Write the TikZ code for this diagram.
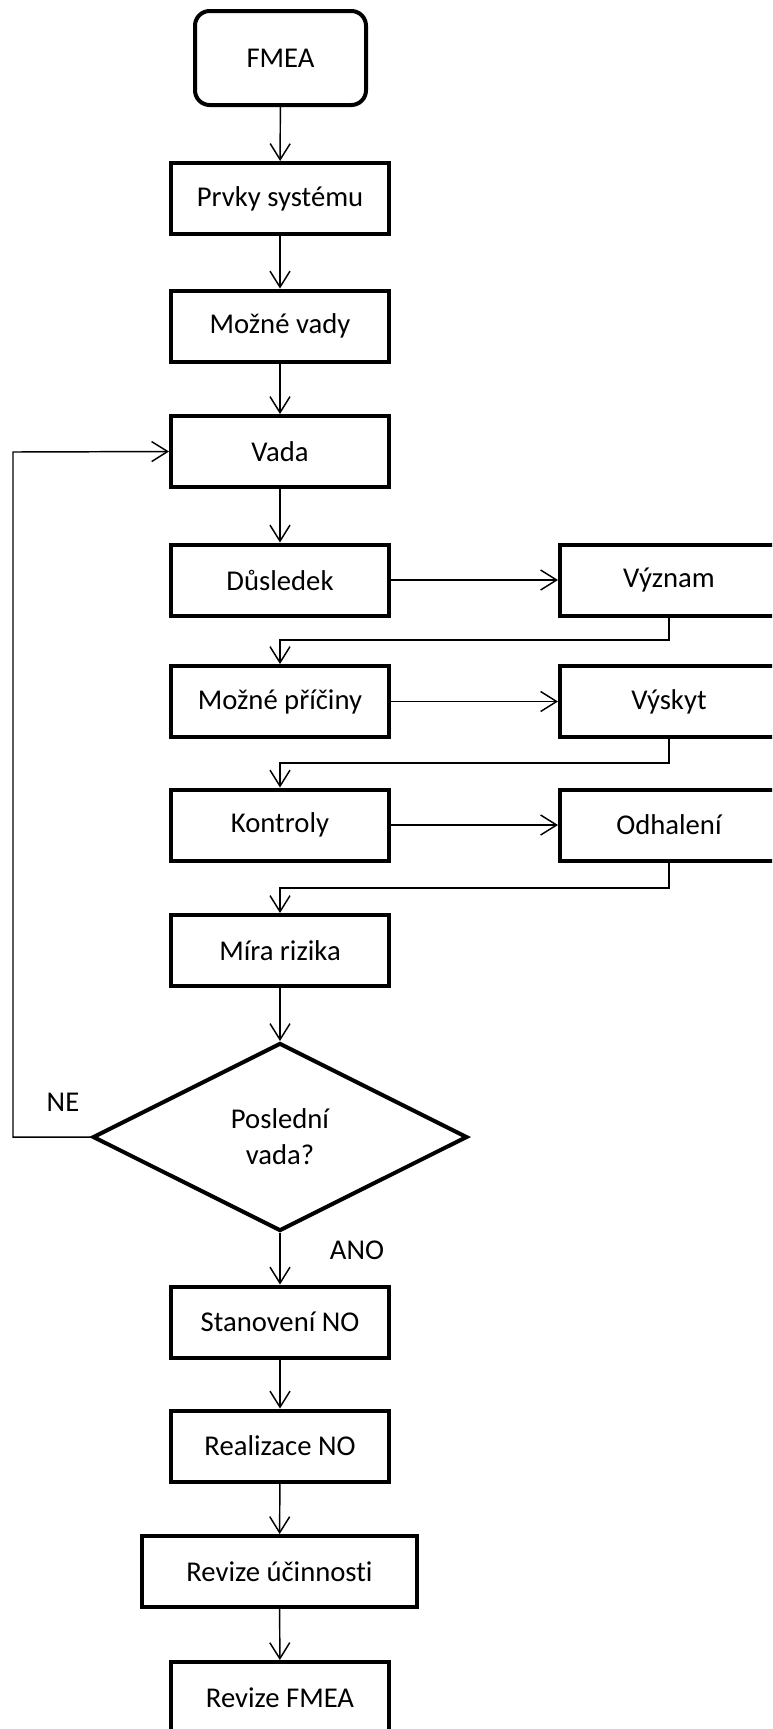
\documentclass[tikz,border=0pt]{standalone}
\usepackage{fontspec}
\setmainfont{Carlito}[Ligatures=NoCommon]
\usetikzlibrary{arrows.meta,shapes.geometric}

\begin{document}
\begin{tikzpicture}[
  x=0.75pt, y=-0.75pt,
  font=\fontsize{21.5}{27}\selectfont,
  stepbox/.style={draw, line width=3pt, rectangle, minimum width=163.5pt,
    minimum height=53.25pt, inner sep=0pt, align=center},
  startbox/.style={stepbox, rounded corners=11pt, minimum width=128.25pt,
    minimum height=70.5pt},
  decision/.style={draw, line width=3pt, diamond, minimum width=281pt,
    minimum height=141pt, inner sep=0pt, align=center},
  flow/.style={line width=1.1pt, -{Straight Barb[length=12pt,width=15pt]}},
  lbl/.style={inner sep=0pt}
]
\useasboundingbox (0,0) rectangle (772,1729);
\clip (0,0) rectangle (772,1729);

% main column
\node[startbox] (fmea) at (280.5,58) {FMEA};
\node[stepbox] (prvky) at (280,198.5) {Prvky systému};
\node[stepbox] (mvady) at (280,326) {Možné vady};
\node[stepbox] (vada) at (280,451.5) {Vada};
\node[stepbox] (dus) at (280,580) {Důsledek};
\node[stepbox] (pric) at (280,701.5) {Možné příčiny};
\node[stepbox] (kon) at (280,825) {Kontroly};
\node[stepbox] (mira) at (280,950.5) {Míra rizika};
\node[decision] (dec) at (280,1137) {Poslední\\vada?};
\node[stepbox] (stan) at (280,1322) {Stanovení NO};
\node[stepbox] (real) at (280,1446) {Realizace NO};
\node[stepbox, minimum width=206.25pt] (rev) at (279.5,1571.5) {Revize účinnosti};
\node[stepbox] (revf) at (280,1697.5) {Revize FMEA};

% ratings column
\node[stepbox] (vyz) at (669,580) {Význam};
\node[stepbox] (vys) at (669,701.5) {Výskyt};
\node[stepbox] (odh) at (669,825) {Odhalení};

% branch labels
\node[lbl] (ne) at (63,1102) {NE};
\node[lbl] (ano) at (357,1250) {ANO};

% bends of the return connectors
\coordinate (b1) at (280,640);
\coordinate (b2) at (280,763);
\coordinate (b3) at (280,888);
\coordinate (loop) at (13,452);

% connectors
\draw[flow] (fmea) -- (prvky);
\draw[flow] (prvky) -- (mvady);
\draw[flow] (mvady) -- (vada);
\draw[flow] (vada) -- (dus);
\draw[flow] (dus) -- (vyz);
\draw[flow] (vyz.south) |- (b1) -- (pric.north);
\draw[flow] (pric) -- (vys);
\draw[flow] (vys.south) |- (b2) -- (kon.north);
\draw[flow] (kon) -- (odh);
\draw[flow] (odh.south) |- (b3) -- (mira.north);
\draw[flow] (mira) -- (dec);
\draw[flow] (dec.west) -| (loop) -- (vada.west);
\draw[flow] (dec.south) -- (stan.north);
\draw[flow] (stan) -- (real);
\draw[flow] (real) -- (rev);
\draw[flow] (rev) -- (revf);
\end{tikzpicture}
\end{document}
